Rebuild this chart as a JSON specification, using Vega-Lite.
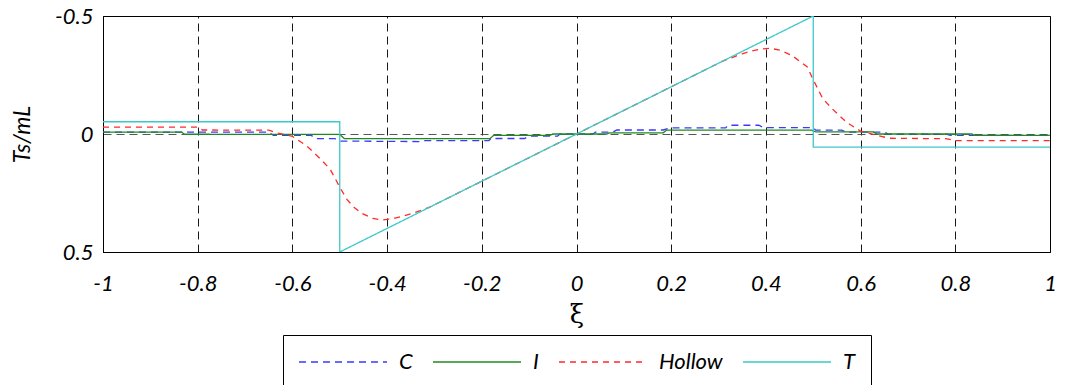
{
  "$schema": "https://vega.github.io/schema/vega-lite/v6.json",
  "autosize": "none",
  "padding": {"left": 103, "top": 16, "right": 16, "bottom": 133},
  "width": 947,
  "height": 236,
  "background": "white",
  "config": {
    "view": {"stroke": "black", "strokeWidth": 1},
    "font": "Lato",
    "axis": {
      "labelFont": "Lato", "labelFontStyle": "italic", "labelFontSize": 22, "labelColor": "black",
      "titleFont": "Lato", "titleFontStyle": "italic", "titleFontWeight": "normal", "titleFontSize": 23, "titleColor": "black",
      "domainColor": "black", "ticks": false, "tickSize": 0
    },
    "legend": {
      "title": null, "orient": "none", "legendX": 180, "legendY": 319, "direction": "horizontal",
      "strokeColor": "black", "padding": 15, "symbolType": "M-4,0H4", "symbolSize": 484,
      "symbolStrokeWidth": 1.5, "symbolOffset": 33, "labelFont": "Lato", "labelFontStyle": "italic", "labelFontSize": 22,
      "labelColor": "black", "labelOffset": 44, "columnPadding": 17
    }
  },
  "data": {"values": [
    {"s": "C", "i": 0, "x": -1, "y": -0.008},
    {"s": "C", "i": 1, "x": -0.65, "y": -0.008},
    {"s": "C", "i": 2, "x": -0.64, "y": 0.006},
    {"s": "C", "i": 3, "x": -0.56, "y": 0.006},
    {"s": "C", "i": 4, "x": -0.55, "y": 0.02},
    {"s": "C", "i": 5, "x": -0.51, "y": 0.02},
    {"s": "C", "i": 6, "x": -0.5, "y": 0.03},
    {"s": "C", "i": 7, "x": -0.33, "y": 0.032},
    {"s": "C", "i": 8, "x": -0.32, "y": 0.028},
    {"s": "C", "i": 9, "x": -0.185, "y": 0.028},
    {"s": "C", "i": 10, "x": -0.18, "y": 0.019},
    {"s": "C", "i": 11, "x": -0.11, "y": 0.019},
    {"s": "C", "i": 12, "x": -0.1, "y": 0.009},
    {"s": "C", "i": 13, "x": -0.04, "y": 0.009},
    {"s": "C", "i": 14, "x": -0.035, "y": 0},
    {"s": "C", "i": 15, "x": 0.035, "y": 0},
    {"s": "C", "i": 16, "x": 0.04, "y": -0.008},
    {"s": "C", "i": 17, "x": 0.077, "y": -0.008},
    {"s": "C", "i": 18, "x": 0.085, "y": -0.017},
    {"s": "C", "i": 19, "x": 0.183, "y": -0.017},
    {"s": "C", "i": 20, "x": 0.197, "y": -0.026},
    {"s": "C", "i": 21, "x": 0.315, "y": -0.026},
    {"s": "C", "i": 22, "x": 0.32, "y": -0.037},
    {"s": "C", "i": 23, "x": 0.385, "y": -0.037},
    {"s": "C", "i": 24, "x": 0.395, "y": -0.027},
    {"s": "C", "i": 25, "x": 0.5, "y": -0.027},
    {"s": "C", "i": 26, "x": 0.505, "y": -0.016},
    {"s": "C", "i": 27, "x": 0.56, "y": -0.016},
    {"s": "C", "i": 28, "x": 0.57, "y": -0.008},
    {"s": "C", "i": 29, "x": 0.65, "y": -0.008},
    {"s": "C", "i": 30, "x": 0.66, "y": 0.001},
    {"s": "C", "i": 31, "x": 0.78, "y": 0.001},
    {"s": "C", "i": 32, "x": 0.79, "y": 0.006},
    {"s": "C", "i": 33, "x": 1, "y": 0.006},

    {"s": "I", "i": 0, "x": -1, "y": -0.008},
    {"s": "I", "i": 1, "x": -0.834, "y": -0.008},
    {"s": "I", "i": 2, "x": -0.828, "y": 0.001},
    {"s": "I", "i": 3, "x": -0.5, "y": 0.002},
    {"s": "I", "i": 4, "x": -0.49, "y": 0.02},
    {"s": "I", "i": 5, "x": -0.183, "y": 0.02},
    {"s": "I", "i": 6, "x": -0.175, "y": 0.006},
    {"s": "I", "i": 7, "x": -0.056, "y": 0.006},
    {"s": "I", "i": 8, "x": -0.05, "y": 0},
    {"s": "I", "i": 9, "x": 0.064, "y": 0},
    {"s": "I", "i": 10, "x": 0.07, "y": -0.005},
    {"s": "I", "i": 11, "x": 0.183, "y": -0.005},
    {"s": "I", "i": 12, "x": 0.19, "y": -0.016},
    {"s": "I", "i": 13, "x": 0.497, "y": -0.016},
    {"s": "I", "i": 14, "x": 0.505, "y": -0.009},
    {"s": "I", "i": 15, "x": 0.626, "y": -0.009},
    {"s": "I", "i": 16, "x": 0.635, "y": 0},
    {"s": "I", "i": 17, "x": 0.835, "y": 0},
    {"s": "I", "i": 18, "x": 0.84, "y": 0.006},
    {"s": "I", "i": 19, "x": 1, "y": 0.006},

    {"s": "Hollow", "i": 0, "x": -1, "y": -0.029},
    {"s": "Hollow", "i": 1, "x": -0.8, "y": -0.029},
    {"s": "Hollow", "i": 2, "x": -0.79, "y": -0.017},
    {"s": "Hollow", "i": 3, "x": -0.65, "y": -0.016},
    {"s": "Hollow", "i": 4, "x": -0.63, "y": -0.004},
    {"s": "Hollow", "i": 5, "x": -0.6, "y": 0.01},
    {"s": "Hollow", "i": 6, "x": -0.57, "y": 0.05},
    {"s": "Hollow", "i": 7, "x": -0.54, "y": 0.107},
    {"s": "Hollow", "i": 8, "x": -0.52, "y": 0.15},
    {"s": "Hollow", "i": 9, "x": -0.5, "y": 0.225},
    {"s": "Hollow", "i": 10, "x": -0.485, "y": 0.277},
    {"s": "Hollow", "i": 11, "x": -0.47, "y": 0.31},
    {"s": "Hollow", "i": 12, "x": -0.455, "y": 0.335},
    {"s": "Hollow", "i": 13, "x": -0.43, "y": 0.358},
    {"s": "Hollow", "i": 14, "x": -0.41, "y": 0.364},
    {"s": "Hollow", "i": 15, "x": -0.39, "y": 0.36},
    {"s": "Hollow", "i": 16, "x": -0.37, "y": 0.35},
    {"s": "Hollow", "i": 17, "x": -0.35, "y": 0.338},
    {"s": "Hollow", "i": 18, "x": -0.33, "y": 0.325},
    {"s": "Hollow", "i": 19, "x": -0.31, "y": 0.31},
    {"s": "Hollow", "i": 20, "x": -0.2, "y": 0.2},
    {"s": "Hollow", "i": 21, "x": -0.1, "y": 0.1},
    {"s": "Hollow", "i": 22, "x": 0, "y": 0},
    {"s": "Hollow", "i": 23, "x": 0.1, "y": -0.1},
    {"s": "Hollow", "i": 24, "x": 0.2, "y": -0.2},
    {"s": "Hollow", "i": 25, "x": 0.31, "y": -0.31},
    {"s": "Hollow", "i": 26, "x": 0.33, "y": -0.325},
    {"s": "Hollow", "i": 27, "x": 0.35, "y": -0.34},
    {"s": "Hollow", "i": 28, "x": 0.37, "y": -0.352},
    {"s": "Hollow", "i": 29, "x": 0.39, "y": -0.36},
    {"s": "Hollow", "i": 30, "x": 0.41, "y": -0.363},
    {"s": "Hollow", "i": 31, "x": 0.43, "y": -0.355},
    {"s": "Hollow", "i": 32, "x": 0.455, "y": -0.333},
    {"s": "Hollow", "i": 33, "x": 0.47, "y": -0.31},
    {"s": "Hollow", "i": 34, "x": 0.487, "y": -0.285},
    {"s": "Hollow", "i": 35, "x": 0.5, "y": -0.23},
    {"s": "Hollow", "i": 36, "x": 0.52, "y": -0.15},
    {"s": "Hollow", "i": 37, "x": 0.54, "y": -0.107},
    {"s": "Hollow", "i": 38, "x": 0.57, "y": -0.05},
    {"s": "Hollow", "i": 39, "x": 0.6, "y": -0.012},
    {"s": "Hollow", "i": 40, "x": 0.63, "y": 0.003},
    {"s": "Hollow", "i": 41, "x": 0.66, "y": 0.018},
    {"s": "Hollow", "i": 42, "x": 0.78, "y": 0.02},
    {"s": "Hollow", "i": 43, "x": 0.8, "y": 0.028},
    {"s": "Hollow", "i": 44, "x": 1, "y": 0.028},

    {"s": "T", "i": 0, "x": -1, "y": -0.052},
    {"s": "T", "i": 1, "x": -0.5, "y": -0.052},
    {"s": "T", "i": 2, "x": -0.5, "y": 0.5},
    {"s": "T", "i": 3, "x": -0.4, "y": 0.4},
    {"s": "T", "i": 4, "x": -0.3, "y": 0.3},
    {"s": "T", "i": 5, "x": -0.2, "y": 0.2},
    {"s": "T", "i": 6, "x": -0.1, "y": 0.1},
    {"s": "T", "i": 7, "x": 0, "y": 0},
    {"s": "T", "i": 8, "x": 0.1, "y": -0.1},
    {"s": "T", "i": 9, "x": 0.2, "y": -0.2},
    {"s": "T", "i": 10, "x": 0.3, "y": -0.3},
    {"s": "T", "i": 11, "x": 0.4, "y": -0.4},
    {"s": "T", "i": 12, "x": 0.5, "y": -0.5},
    {"s": "T", "i": 13, "x": 0.5, "y": 0.056},
    {"s": "T", "i": 14, "x": 1, "y": 0.056}
  ]},
  "mark": {"type": "line", "strokeWidth": 1.3, "clip": true},
  "encoding": {
    "x": {
      "field": "x", "type": "quantitative",
      "scale": {"domain": [-1, 1], "nice": false, "zero": false},
      "axis": {
        "title": "ξ", "titleFont": "DejaVu Serif", "titleFontStyle": "normal", "titleFontSize": 26, "titlePadding": 7,
        "values": [-1, -0.8, -0.6, -0.4, -0.2, 0, 0.2, 0.4, 0.6, 0.8, 1],
        "labelExpr": "'' + datum.value", "labelPadding": 21, "labelFlush": false,
        "grid": true, "gridColor": "black", "gridDash": [8, 5], "gridWidth": 1, "gridOpacity": 0.9
      }
    },
    "y": {
      "field": "y", "type": "quantitative",
      "scale": {"domain": [-0.5, 0.5], "reverse": true, "nice": false, "zero": false},
      "axis": {
        "title": "Ts/mL", "titlePadding": 20,
        "values": [-0.5, 0, 0.5],
        "labelExpr": "'' + datum.value", "labelPadding": 10, "labelFlush": false,
        "grid": true, "gridColor": "#444444", "gridDash": [8, 5], "gridWidth": 1,
        "gridOpacity": {"condition": {"test": "datum.value == 0", "value": 0.9}, "value": 0}
      }
    },
    "order": {"field": "i", "type": "quantitative"},
    "color": {
      "field": "s", "type": "nominal",
      "scale": {"domain": ["C", "I", "Hollow", "T"], "range": ["#3a3aff", "#1f8a1f", "#ff2a2a", "#3cc8c8"]},
      "legend": {}
    },
    "strokeDash": {
      "field": "s", "type": "nominal",
      "scale": {"domain": ["C", "I", "Hollow", "T"], "range": [[7, 5], [1, 0], [6, 5], [1, 0]]},
      "legend": {}
    }
  }
}
